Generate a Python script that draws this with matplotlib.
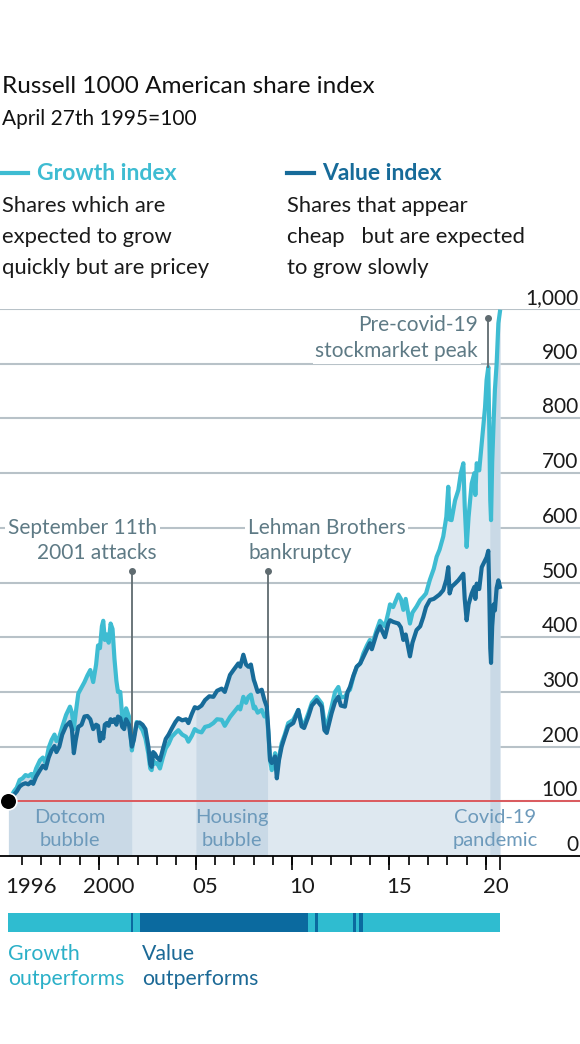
import numpy as np
import matplotlib
matplotlib.use("Agg")
import matplotlib.pyplot as plt
from matplotlib.lines import Line2D
from matplotlib.transforms import blended_transform_factory

plt.rcParams['font.family'] = ['Lato', 'DejaVu Sans']

# ---------------- data ----------------
dates = [1995.32, 1995.45, 1995.6, 1995.75, 1995.9, 1996.05, 1996.2, 1996.35, 1996.5, 1996.6,
         1996.75, 1996.95, 1997.1, 1997.25, 1997.4, 1997.55, 1997.7, 1997.8, 1997.95, 1998.1,
         1998.3, 1998.5, 1998.6, 1998.7, 1998.8, 1998.93, 1999.1, 1999.25, 1999.4, 1999.55,
         1999.7, 1999.85, 1999.95, 2000.05, 2000.15, 2000.22, 2000.3, 2000.4, 2000.5, 2000.6,
         2000.7, 2000.8, 2000.9, 2000.98, 2001.1, 2001.2, 2001.3, 2001.4, 2001.55, 2001.7,
         2001.8, 2001.95, 2002.1, 2002.25, 2002.4, 2002.55, 2002.65, 2002.72, 2002.8, 2002.89,
         2003.0, 2003.15, 2003.3, 2003.45, 2003.6, 2003.76, 2003.95, 2004.1, 2004.3, 2004.5,
         2004.62, 2004.8, 2004.95, 2005.1, 2005.3, 2005.48, 2005.7, 2005.91, 2006.1, 2006.34,
         2006.5, 2006.77, 2006.95, 2007.2, 2007.3, 2007.46, 2007.6, 2007.72, 2007.85, 2008.0,
         2008.06, 2008.2, 2008.41, 2008.55, 2008.67, 2008.75, 2008.84, 2008.93, 2009.1, 2009.19,
         2009.3, 2009.44, 2009.6, 2009.78, 2010.04, 2010.3, 2010.47, 2010.6, 2010.82, 2011.0,
         2011.25, 2011.51, 2011.65, 2011.77, 2012.02, 2012.2, 2012.37, 2012.5, 2012.71, 2012.85,
         2012.97, 2013.15, 2013.32, 2013.5, 2013.66, 2013.85, 2014.0, 2014.1, 2014.35, 2014.52,
         2014.78, 2014.95, 2015.04, 2015.2, 2015.47, 2015.6, 2015.73, 2015.85, 2016.07, 2016.2,
         2016.41, 2016.6, 2016.76, 2016.9, 2017.1, 2017.3, 2017.45, 2017.6, 2017.79, 2017.95,
         2018.05, 2018.12, 2018.22, 2018.4, 2018.57, 2018.7, 2018.83, 2018.9, 2019.0, 2019.1,
         2019.26, 2019.4, 2019.45, 2019.52, 2019.65, 2019.78, 2019.95, 2020.03, 2020.12, 2020.17,
         2020.22, 2020.26, 2020.32, 2020.4, 2020.46, 2020.55, 2020.64, 2020.72]

growth = [100, 108, 118, 125, 139, 142, 148, 146, 150, 143,
          160, 175, 180, 170, 198, 212, 222, 210, 218, 236,
          258, 273, 262, 232, 262, 297, 308, 318, 330, 340,
          318, 350, 385, 380, 420, 430, 395, 405, 390, 425,
          415, 360, 320, 300, 300, 255, 245, 270, 255, 193,
          218, 245, 238, 230, 215, 187, 160, 157, 175, 169,
          170, 160, 180, 197, 205, 218, 225, 230, 222, 218,
          209, 220, 232, 228, 226, 236, 238, 243, 250, 249,
          238, 254, 262, 273, 268, 291, 280, 291, 295, 270,
          273, 262, 267, 255, 261, 225, 175, 157, 188, 157,
          180, 206, 222, 243, 249, 267, 243, 240, 261, 280,
          291, 279, 245, 237, 273, 300, 309, 290, 291, 300,
          304, 328, 346, 352, 370, 385, 395, 385, 413, 430,
          420, 445, 460, 455, 478, 470, 450, 470, 425, 445,
          456, 468, 474, 480, 505, 525, 547, 560, 584, 620,
          675, 615, 614, 650, 669, 700, 718, 640, 565, 620,
          681, 700, 660, 718, 705, 754, 820, 870, 894, 780,
          650, 614, 720, 800, 852, 900, 974, 995]

value = [100, 106, 112, 118, 127, 131, 133, 131, 136, 132,
         145, 157, 165, 160, 180, 193, 201, 190, 200, 222,
         238, 245, 232, 188, 212, 236, 240, 255, 256, 250,
         232, 240, 238, 210, 225, 215, 240, 243, 238, 250,
         245, 250, 240, 255, 252, 236, 232, 250, 240, 200,
         212, 243, 244, 240, 232, 200, 168, 163, 190, 187,
         180, 175, 195, 214, 222, 233, 245, 252, 248, 250,
         243, 260, 272, 270, 275, 285, 292, 291, 302, 306,
         300, 331, 340, 352, 346, 368, 350, 346, 350, 322,
         316, 300, 304, 285, 273, 231, 175, 170, 182, 142,
         175, 200, 218, 237, 243, 267, 237, 234, 255, 275,
         285, 273, 230, 225, 261, 282, 291, 275, 273, 300,
         309, 330, 346, 352, 364, 378, 389, 378, 407, 420,
         400, 425, 431, 428, 425, 418, 395, 405, 365, 390,
         413, 420, 437, 455, 468, 470, 474, 478, 486, 505,
         528, 480, 492, 498, 504, 510, 516, 470, 431, 460,
         480, 492, 470, 498, 488, 528, 540, 546, 558, 480,
         380, 353, 420, 460, 449, 490, 504, 492]

# outperformance strip: breakpoints and winner of each segment
strip_edges = [1995.32, 2001.64, 2001.77, 2002.12, 2009.18, 2009.22, 2010.82, 2011.16,
               2011.30, 2013.14, 2013.28, 2013.42, 2013.66, 2020.72]
strip_winner = ['G', 'V', 'G', 'V', 'G', 'V', 'G', 'V', 'G', 'V', 'G', 'V', 'G']

band_names = [("Dotcom", "bubble"), ("Housing", "bubble"), ("Covid-19", "pandemic")]
band_start = [1995.32, 2005.01, 2020.2]
band_end = [2001.69, 2008.71, 2020.72]

yticks = [0, 100, 200, 300, 400, 500, 600, 700, 800, 900, 1000]
ytick_labels = ["0", "100", "200", "300", "400", "500", "600", "700", "800", "900", "1,000"]
xlabel_years = [1996, 2000, 2005, 2010, 2015, 2020]
xlabel_text = ["1996", "2000", "05", "10", "15", "20"]

# ---------------- style ----------------
GROWTH = "#3EBCD2"
VALUE = "#176B99"
STRIP_G = "#2FBCD0"
STRIP_V = "#0B6A9F"
FILL = "#DEE8F0"
BAND = "#C9D9E6"
GRID = "#B8C2C8"
RED = "#DB5A5E"
ANN = "#5E7A85"
BANDTXT = "#6D9ABB"
INK = "#1a1a1a"

W, H = 580, 1044
fig = plt.figure(figsize=(W / 100, H / 100), dpi=100)


def fx(x):
    return x / W


def fy(y):
    return 1 - y / H


X0 = 1994.884
X1 = 2024.858
ax = fig.add_axes([0, fy(856), 1, (856 - 309) / H])
ax.set_xlim(X0, X1)
ax.set_ylim(0, 1000)
for s in ['top', 'left', 'right']:
    ax.spines[s].set_visible(False)
ax.spines['bottom'].set_color('black')
ax.spines['bottom'].set_linewidth(1.3)
ax.set_yticks([])

d = np.array(dates)
g = np.array(growth)
v = np.array(value)
top = np.maximum(g, v)

for t in yticks[1:]:
    ax.axhline(t, color=GRID, lw=1.5, zorder=0)

ax.fill_between(d, 0, top, color=FILL, lw=0, zorder=1)
for (l1, l2), a, b in zip(band_names, band_start, band_end):
    m = (d > a) & (d < b)
    dd = np.concatenate([[a], d[m], [b]])
    tt = np.concatenate([[np.interp(a, d, top)], top[m], [np.interp(b, d, top)]])
    ax.fill_between(dd, 0, tt, color=BAND, lw=0, zorder=1.5)
    ax.text((a + b) / 2, (856 - 823) / 0.547, l1, ha='center', va='baseline',
            fontsize=14.5, color=BANDTXT, zorder=5)
    ax.text((a + b) / 2, (856 - 846) / 0.547, l2, ha='center', va='baseline',
            fontsize=14.5, color=BANDTXT, zorder=5)

ax.axhline(100, xmin=(dates[0] - X0) / (X1 - X0), color=RED, lw=1.4, zorder=3)
ax.plot(d, g, color=GROWTH, lw=3, zorder=4, clip_on=False, solid_joinstyle='round')
ax.plot(d, v, color=VALUE, lw=3, zorder=4.5, clip_on=False, solid_joinstyle='round')
ax.plot([dates[0]], [100], 'o', ms=12, color='black', mec='white', mew=1.2, zorder=6,
        clip_on=False)

for t, lab in zip(yticks, ytick_labels):
    ax.text(2024.76, t + 9, lab, ha='right', va='baseline', fontsize=15, color=INK,
            zorder=5)

# ticks
ax.set_xticks(np.arange(1996, 2021), minor=True)
ax.set_xticks([])
ax.tick_params(axis='x', which='minor', length=6.5, width=1.2, color='black', direction='out')
sec = ax.secondary_xaxis('bottom')
sec.set_xticks([2000, 2005, 2010, 2015, 2020, dates[-1]])
sec.set_xticklabels([])
sec.tick_params(length=10, width=1.2, color='black')
sec.spines['bottom'].set_visible(False)

tr = blended_transform_factory(ax.transData, fig.transFigure)
for yr, lab in zip(xlabel_years, xlabel_text):
    ax.text(yr + 0.5, fy(893), lab, transform=tr, ha='center', va='baseline',
            fontsize=16, color=INK)


# annotations
def vline_ann(x, ytop):
    ybot = np.interp(x, d, top)
    ax.plot([x, x], [ybot, ytop], color='#5F6B70', lw=1.3, zorder=4.2, clip_on=False)
    ax.plot([x], [ytop], 'o', ms=4, color='#5F6B70', zorder=4.2, clip_on=False)


vline_ann(2001.69, 521)
vline_ann(2008.71, 521)
vline_ann(2020.12, 983)

box = dict(facecolor='white', edgecolor='none', pad=2)
ann_lines = [
    (157, 'right', [(534, "September 11th"), (559, "2001 attacks")]),
    (248, 'left', [(534, "Lehman Brothers"), (559, "bankruptcy")]),
    (478, 'right', [(331, "Pre-covid-19"), (357, "stockmarket peak")]),
]
for x, ha, rows in ann_lines:
    for y, txt in rows:
        fig.text(fx(x), fy(y), txt, ha=ha, va='baseline', fontsize=15, color=ANN,
                 bbox=box, zorder=7)

# strip
sax = fig.add_axes([0, fy(932), 1, 19 / H])
sax.set_xlim(X0, X1)
sax.set_ylim(0, 1)
sax.axis('off')
for a, b, w in zip(strip_edges[:-1], strip_edges[1:], strip_winner):
    sax.axvspan(a, b, color=STRIP_G if w == 'G' else STRIP_V, lw=0)

for x, col, rows in [(8, "#2BB0C8", ["Growth", "outperforms"]),
                     (142, "#1B6996", ["Value", "outperforms"])]:
    fig.text(fx(x), fy(960), rows[0], ha='left', va='baseline', fontsize=15.3, color=col)
    fig.text(fx(x), fy(985), rows[1], ha='left', va='baseline', fontsize=15.3, color=col)

# header
fig.text(fx(2), fy(93), "Russell 1000 American share index", fontsize=17.5, color='#111111',
         va='baseline')
fig.text(fx(2), fy(125), "April 27th 1995=100", fontsize=15, color='#111111', va='baseline')

fig.add_artist(Line2D([fx(2), fx(28)], [fy(173), fy(173)], color=GROWTH, lw=3))
fig.text(fx(37), fy(180), "Growth index", fontsize=16.5, fontweight='bold', color=GROWTH,
         va='baseline')
fig.add_artist(Line2D([fx(287), fx(314)], [fy(173), fy(173)], color=VALUE, lw=3))
fig.text(fx(322), fy(180), "Value index", fontsize=16.5, fontweight='bold', color=VALUE,
         va='baseline')

left_desc = ["Shares which are", "expected to grow", "quickly but are pricey"]
right_desc = ["Shares that appear", "cheap   but are expected", "to grow slowly"]
for i, yb in enumerate([212, 243, 274]):
    fig.text(fx(2), fy(yb), left_desc[i], fontsize=15.8, color=INK, va='baseline')
    fig.text(fx(287), fy(yb), right_desc[i], fontsize=15.8, color=INK, va='baseline')

fig.savefig("out.png", dpi=100)
